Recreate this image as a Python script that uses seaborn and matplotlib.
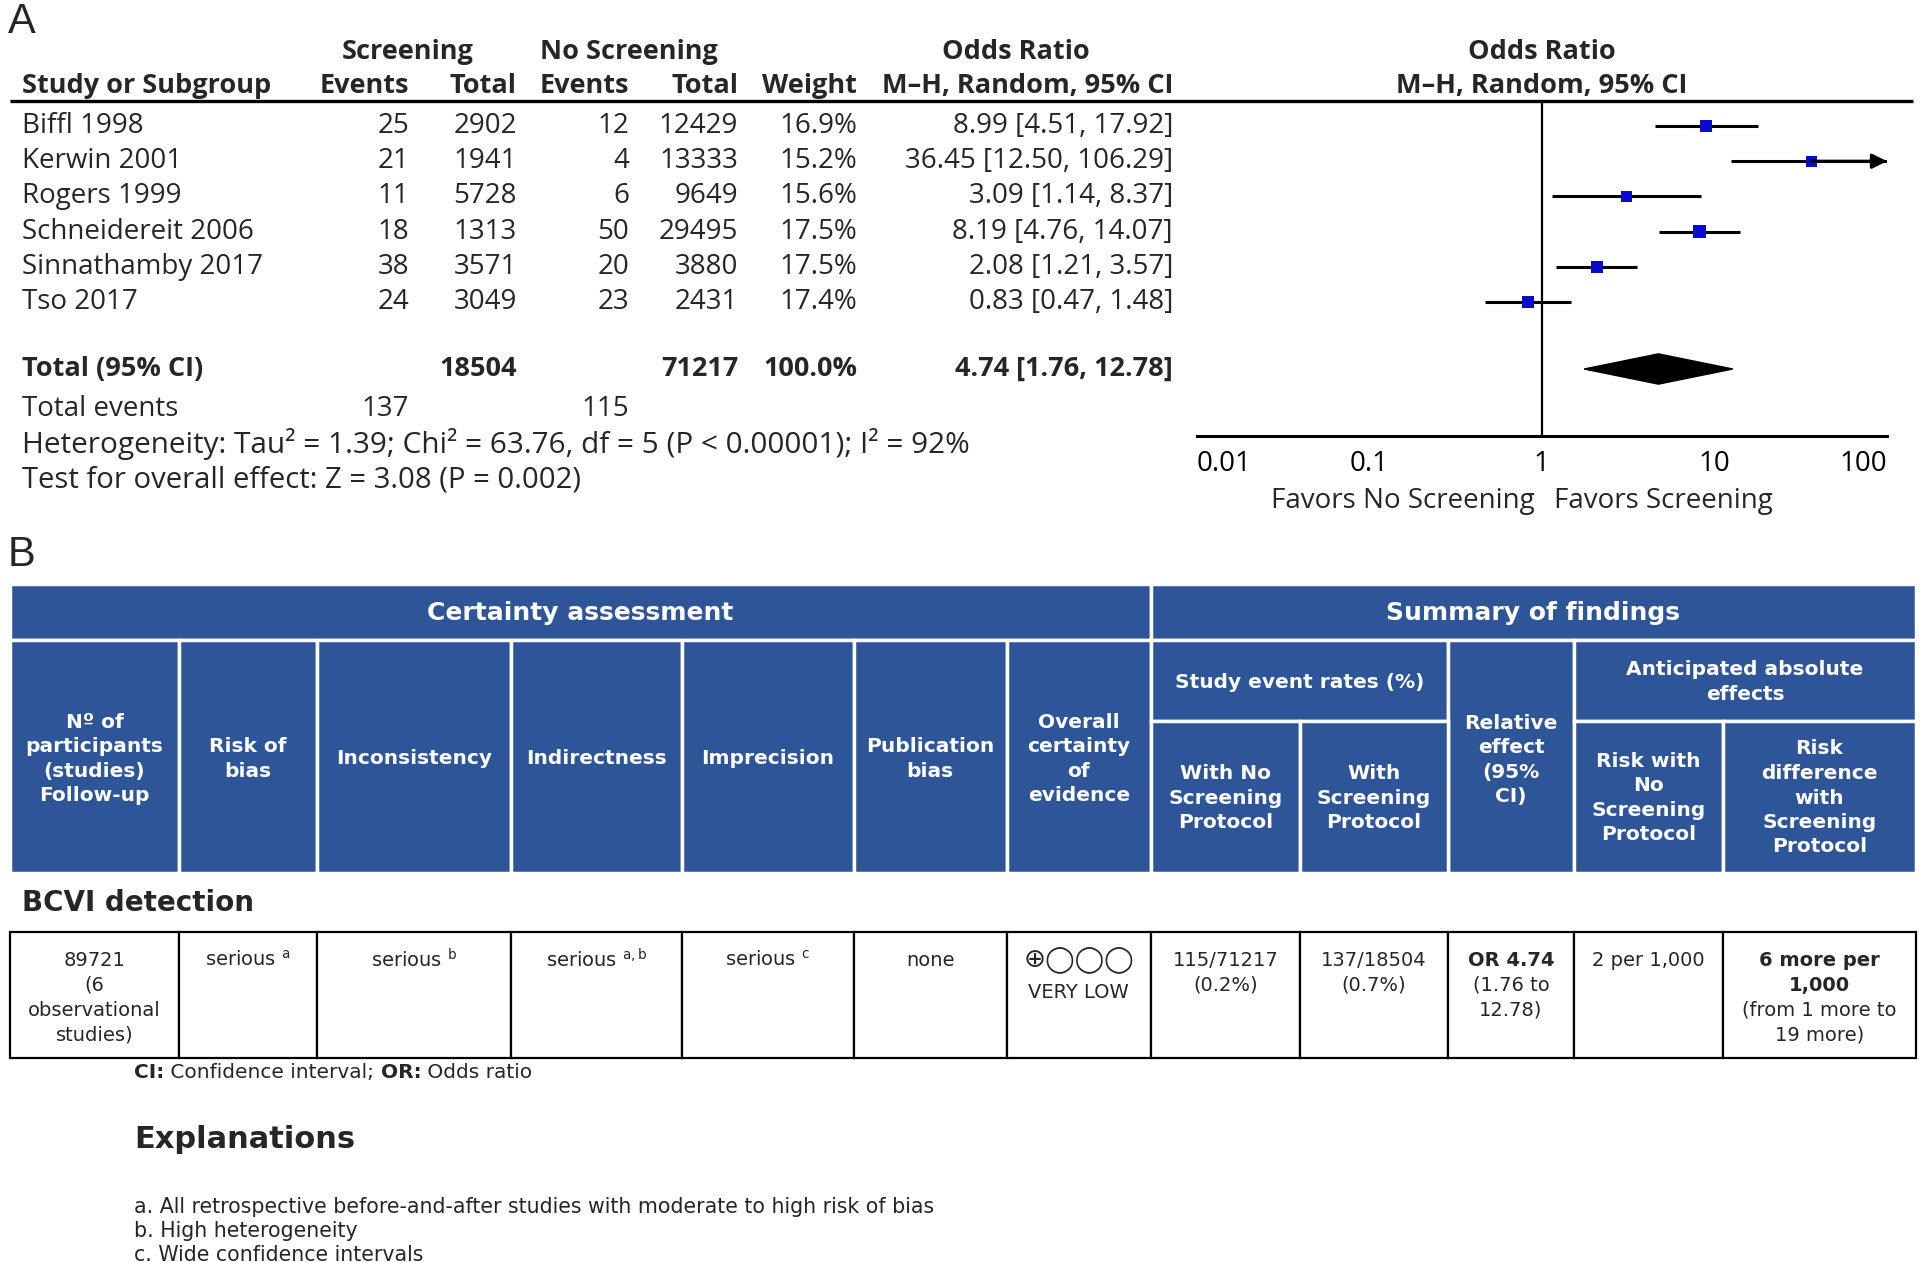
import numpy as np
import pandas as pd
import matplotlib
matplotlib.use('Agg')
import matplotlib.pyplot as plt
from matplotlib.patches import Rectangle
import seaborn as sns

# forest plot data (panel A)
studies = ['Biffl 1998', 'Kerwin 2001', 'Rogers 1999', 'Schneidereit 2006',
           'Sinnathamby 2017', 'Tso 2017']
scr_events = [25, 21, 11, 18, 38, 24]
scr_total = [2902, 1941, 5728, 1313, 3571, 3049]
no_events = [12, 4, 6, 50, 20, 23]
no_total = [12429, 13333, 9649, 29495, 3880, 2431]
weight = [16.9, 15.2, 15.6, 17.5, 17.5, 17.4]
odds = [8.99, 36.45, 3.09, 8.19, 2.08, 0.83]
ci_lo = [4.51, 12.50, 1.14, 4.76, 1.21, 0.47]
ci_hi = [17.92, 106.29, 8.37, 14.07, 3.57, 1.48]
tot_or, tot_lo, tot_hi = 4.74, 1.76, 12.78
tot_scr, tot_no = 18504, 71217
tot_ev_scr, tot_ev_no = 137, 115
xticks = [0.01, 0.1, 1, 10, 100]
xticklabels = ['0.01', '0.1', '1', '10', '100']

# GRADE table (panel B)
sub_headers = ['Nº of\nparticipants\n(studies)\nFollow-up', 'Risk of\nbias', 'Inconsistency',
               'Indirectness', 'Imprecision', 'Publication\nbias',
               'Overall\ncertainty\nof\nevidence']
row_cells = [['89721', '(6', 'observational', 'studies)'],
             [r'serious $^{\mathrm{a}}$'], [r'serious $^{\mathrm{b}}$'],
             [r'serious $^{\mathrm{a,b}}$'], [r'serious $^{\mathrm{c}}$'], ['none'],
             ['⊕◯◯◯', 'VERY LOW'], ['115/71217', '(0.2%)'], ['137/18504', '(0.7%)'],
             ['OR 4.74', '(1.76 to', '12.78)'], ['2 per 1,000'],
             ['6 more per', '1,000', '(from 1 more to', '19 more)']]
bold_lines = {9: 1, 11: 2}
explanations = ['a. All retrospective before-and-after studies with moderate to high risk of bias',
                'b. High heterogeneity',
                'c. Wide confidence intervals']

sns.set_style('white')
plt.rcParams['font.family'] = ['DejaVu Sans']

W, H = 1920, 1262
fig = plt.figure(figsize=(19.2, 12.62), dpi=100)
ax = fig.add_axes([0, 0, 1, 1])
ax.set_xlim(0, W)
ax.set_ylim(H, 0)
ax.axis('off')
renderer = fig.canvas.get_renderer()

fa = 'Open Sans'
fsA = 20
fsB = 19.5
row0, step = 126, 35.2


def row_y(i):
    return row0 + step * i


def seq_text(x, y, pieces, **kw):
    # write text pieces one after another on a line
    for txt, wt in pieces:
        t = ax.text(x, y, txt, ha='left', va='center', weight=wt, **kw)
        x += t.get_window_extent(renderer).width


#%% panel A text table
ax.text(8, 22, 'A', fontsize=30, family='Liberation Sans', va='center', ha='left')
ax.text(8, 555, 'B', fontsize=30, family='Liberation Sans', va='center', ha='left')

kwA = dict(family=fa, fontsize=fsA, va='center')
kwAb = dict(family=fa, fontsize=fsB, va='center', weight='bold')
ax.text(408, 52, 'Screening', ha='center', **kwAb)
ax.text(629, 52, 'No Screening', ha='center', **kwAb)
ax.text(1016, 52, 'Odds Ratio', ha='center', **kwAb)
ax.text(1542, 52, 'Odds Ratio', ha='center', **kwAb)
col_right = [409, 517, 629, 738, 857, 1173]
hdr2 = ['Events', 'Total', 'Events', 'Total', 'Weight', 'M\u2013H, Random, 95% CI']
ax.text(22, 86, 'Study or Subgroup', ha='left', **kwAb)
for xr, h in zip(col_right, hdr2):
    ax.text(xr, 86, h, ha='right', **kwAb)
ax.text(1542, 86, 'M\u2013H, Random, 95% CI', ha='center', **kwAb)
ax.plot([10, 1913], [101, 101], color='black', lw=2.4, solid_capstyle='butt')

for i, s in enumerate(studies):
    y = row_y(i)
    vals = [scr_events[i], scr_total[i], no_events[i], no_total[i],
            f'{weight[i]:.1f}%', f'{odds[i]:.2f} [{ci_lo[i]:.2f}, {ci_hi[i]:.2f}]']
    ax.text(22, y, s, ha='left', **kwA)
    for xr, v in zip(col_right, vals):
        ax.text(xr, y, str(v), ha='right', **kwA)

ytot = 369
ax.text(22, ytot, 'Total (95% CI)', ha='left', **kwAb)
ax.text(col_right[1], ytot, str(tot_scr), ha='right', **kwAb)
ax.text(col_right[3], ytot, str(tot_no), ha='right', **kwAb)
ax.text(col_right[4], ytot, '100.0%', ha='right', **kwAb)
ax.text(col_right[5], ytot, f'{tot_or:.2f} [{tot_lo:.2f}, {tot_hi:.2f}]', ha='right', **kwAb)
ax.text(22, 409, 'Total events', ha='left', **kwA)
ax.text(col_right[0], 409, str(tot_ev_scr), ha='right', **kwA)
ax.text(col_right[2], 409, str(tot_ev_no), ha='right', **kwA)
ax.text(22, 444, 'Heterogeneity: Tau² = 1.39; Chi² = 63.76, df = 5 (P < 0.00001); I² = 92%',
        ha='left', family=fa, fontsize=21.4, va='center')
ax.text(22, 480, 'Test for overall effect: Z = 3.08 (P = 0.002)', ha='left', family=fa,
        fontsize=21.1, va='center')

#%% forest plot
x0, x1, ytop, ybot = 1196.5, 1887, 101, 436
fax = fig.add_axes([x0 / W, 1 - ybot / H, (x1 - x0) / W, (ybot - ytop) / H])
fax.patch.set_alpha(0)
df = pd.DataFrame({'study': studies, 'odds': odds, 'lo': ci_lo, 'hi': ci_hi,
                   'weight': weight, 'row': np.arange(len(studies))})
fax.hlines(df['row'], df['lo'], df['hi'].clip(upper=max(xticks)), color='black', lw=2.2,
           zorder=2)
sns.scatterplot(data=df, x='odds', y='row', size='weight', sizes=(62, 78), marker='s',
                color='#0a0acf', edgecolor='none', legend=False, ax=fax, zorder=3)
for _, r in df[df['hi'] > max(xticks)].iterrows():
    fax.annotate('', xy=(max(xticks), r['row']), xytext=(r['odds'], r['row']),
                 arrowprops=dict(arrowstyle='-|>', color='black', lw=2.2, mutation_scale=22,
                                 shrinkA=0, shrinkB=0), annotation_clip=False)
tr = (ytot - row0) / step
fax.fill([tot_lo, tot_or, tot_hi, tot_or], [tr, tr - 0.43, tr, tr + 0.43], color='black',
         zorder=3)
fax.axvline(1, color='black', lw=1.6, zorder=1)
fax.set_xscale('log')
fax.set_xlim(min(xticks), max(xticks))
fax.set_ylim((ybot - row0) / step, (ytop - row0) / step)
fax.set_xlabel('')
fax.set_ylabel('')
fax.set_yticks([])
fax.set_xticks(xticks)
fax.set_xticklabels(xticklabels, family=fa, fontsize=fsA)
fax.minorticks_off()
fax.tick_params(axis='x', direction='inout', length=16, width=2.2, pad=2, colors='black')
labs = fax.get_xticklabels()
labs[0].set_ha('left')
labs[-1].set_ha('right')
for sp in ['top', 'left', 'right']:
    fax.spines[sp].set_visible(False)
fax.spines['bottom'].set_linewidth(2.2)
fax.spines['bottom'].set_color('black')
ax.text(1535, 501, 'Favors No Screening', ha='right', **kwA)
ax.text(1554, 501, 'Favors Screening', ha='left', **kwA)

#%% panel B GRADE table
blue = '#2d5597'
bounds = [10, 179, 317, 511, 682, 853.5, 1006.5, 1151, 1300, 1448, 1574, 1723, 1916]


def cell(xa, xb, ya, yb, fc, ec, lw):
    ax.add_patch(Rectangle((xa, ya), xb - xa, yb - ya, facecolor=fc, edgecolor=ec, lw=lw))


def lines_text(xc, yc, text, spacing, **kw):
    parts = text.split('\n')
    n = len(parts)
    for k, p in enumerate(parts):
        ax.text(xc, yc + (k - (n - 1) / 2) * spacing, p, ha='center', va='center', **kw)


kwH = dict(color='white', weight='bold', family='DejaVu Sans')
fsH = 14.5
cell(bounds[0], bounds[7], 584, 640, blue, 'white', 2.5)
cell(bounds[7], bounds[12], 584, 640, blue, 'white', 2.5)
lines_text((bounds[0] + bounds[7]) / 2, 613, 'Certainty assessment', 24, fontsize=18, **kwH)
lines_text((bounds[7] + bounds[12]) / 2, 613, 'Summary of findings', 24, fontsize=18, **kwH)
for i, h in enumerate(sub_headers):
    cell(bounds[i], bounds[i + 1], 640, 873, blue, 'white', 2.5)
    lines_text((bounds[i] + bounds[i + 1]) / 2, 759, h, 24.5, fontsize=fsH, **kwH)
cell(bounds[7], bounds[9], 640, 721, blue, 'white', 2.5)
lines_text((bounds[7] + bounds[9]) / 2, 683, 'Study event rates (%)', 24.5, fontsize=fsH, **kwH)
cell(bounds[9], bounds[10], 640, 873, blue, 'white', 2.5)
lines_text((bounds[9] + bounds[10]) / 2, 760, 'Relative\neffect\n(95%\nCI)', 24.5, fontsize=fsH,
           **kwH)
cell(bounds[10], bounds[12], 640, 721, blue, 'white', 2.5)
lines_text((bounds[10] + bounds[12]) / 2, 682, 'Anticipated absolute\neffects', 24.5,
           fontsize=fsH, **kwH)
lower = [(7, 'With No\nScreening\nProtocol'), (8, 'With\nScreening\nProtocol'),
         (10, 'Risk with\nNo\nScreening\nProtocol'),
         (11, 'Risk\ndifference\nwith\nScreening\nProtocol')]
for i, h in lower:
    cell(bounds[i], bounds[i + 1], 721, 873, blue, 'white', 2.5)
    lines_text((bounds[i] + bounds[i + 1]) / 2, 798, h, 24.5, fontsize=fsH, **kwH)

ax.text(22, 903, 'BCVI detection', ha='left', va='center', weight='bold', fontsize=20)

# data row
for i, lines in enumerate(row_cells):
    cell(bounds[i], bounds[i + 1], 932, 1058, 'white', 'black', 1.6)
    xc = (bounds[i] + bounds[i + 1]) / 2
    y = 960
    for k, t in enumerate(lines):
        fw = 'bold' if k < bold_lines.get(i, 0) else 'normal'
        fs = 19 if t.startswith('⊕') else 14
        ax.text(xc, y, t, ha='center', va='center', fontsize=fs, weight=fw)
        y += 33 if t.startswith('⊕') else 25

seq_text(134, 1073, [('CI:', 'bold'), (' Confidence interval; ', 'normal'),
                     ('OR:', 'bold'), (' Odds ratio', 'normal')], fontsize=14.5)
ax.text(134, 1140, 'Explanations', ha='left', va='center', weight='bold', fontsize=22)
for k, t in enumerate(explanations):
    ax.text(134, 1207 + 24 * k, t, ha='left', va='center', fontsize=14.8)

fig.savefig('out.png', dpi=100)
